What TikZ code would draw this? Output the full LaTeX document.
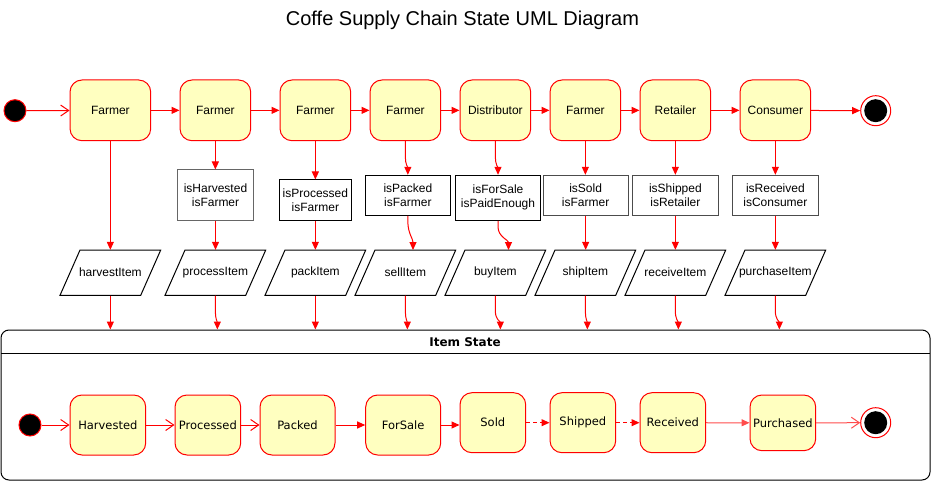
\documentclass[tikz,border=0pt]{standalone}
\usepackage{fontspec}
\setmainfont{Liberation Sans}
\newfontfamily\dejavu{DejaVu Sans}
\usetikzlibrary{arrows.meta}
\definecolor{stfill}{HTML}{FFFFC0}
\definecolor{stred}{HTML}{FF0000}
\begin{document}
\begin{tikzpicture}[x=1pt,y=-1pt,
 actor/.style={draw=stred, fill=stfill, rounded corners=12pt, line width=1pt, font=\fontsize{12}{14}\selectfont, minimum height=60.7pt, minimum width=70.7pt, inner sep=0pt},
 istate/.style={draw=stred, fill=stfill, rounded corners=12pt, line width=1pt, font=\dejavu\fontsize{11.5}{14}\selectfont, minimum width=65.7pt, minimum height=60pt, inner sep=0pt},
 guard/.style={draw=black, fill=white, line width=1pt, font=\fontsize{12}{14}\selectfont, align=center, inner sep=0pt, minimum height=40pt, minimum width=85.3pt},
 para/.style={font=\fontsize{12}{14}\selectfont, minimum width=60pt, minimum height=45.3pt, inner sep=0pt},
 flow/.style={draw=stred, line width=1pt, -{Triangle[length=8pt,width=7pt]}},
 openflow/.style={draw=stred, line width=1pt, -{Straight Barb[length=8pt,width=11pt]}},
 initst/.style={circle, fill=black, draw=stred, line width=1pt, minimum size=22pt, inner sep=0pt},
 finalst/.style={circle, fill=white, draw=stred, line width=1pt, minimum size=30pt, inner sep=0pt},
 paraline/.style={draw=black, line width=1pt}
]
\useasboundingbox (0,0) rectangle (931,481);
\newcommand\drawpara[1]{\draw[paraline] ([shift={(-50.35,22.65)}]#1.center) -- ([shift={(-30.35,-22.65)}]#1.center) -- ([shift={(50.35,-22.65)}]#1.center) -- ([shift={(30.35,22.65)}]#1.center) -- cycle;}

\node[font=\fontsize{20}{24}\selectfont] (title) at (462.5,20) {Coffe Supply Chain State UML Diagram};

% top row
\node[initst] (i1) at (15,110.7) {};
\node[actor, minimum width=80.7pt] (f1) at (110.35,110.35) {Farmer};
\node[actor] (f2) at (215.35,110.35) {Farmer};
\node[actor] (f3) at (315.35,110.35) {Farmer};
\node[actor] (f4) at (405.35,110.35) {Farmer};
\node[actor] (f5) at (495.35,110.35) {Distributor};
\node[actor] (f6) at (585.35,110.35) {Farmer};
\node[actor] (f7) at (675.35,110.35) {Retailer};
\node[actor] (f8) at (775.35,110.35) {Consumer};
\node[finalst] (e1) at (875.7,110.7) {};
\fill[black] (e1.center) circle (11.5pt);

% guards
\node[guard, draw=black!60, minimum width=75.6pt, minimum height=50pt] (g2) at (215.5,195) {isHarvested\\isFarmer};
\node[guard, minimum width=72.7pt] (g3) at (315.35,200) {isProcessed\\isFarmer};
\node[guard, minimum width=84.3pt] (g4) at (407.85,195.3) {isPacked\\isFarmer};
\node[guard, minimum height=45pt] (g5) at (498,197.8) {isForSale\\isPaidEnough};
\node[guard, draw=black!70] (g6) at (585.65,195.3) {isSold\\isFarmer};
\node[guard, draw=black!70] (g7) at (675.35,195.3) {isShipped\\isRetailer};
\node[guard, draw=black!70] (g8) at (775.35,195.3) {isReceived\\isConsumer};

% parallelograms
\node[para] (p1) at (110.35,272.7) {harvestItem};
\node[para] (p2) at (215.35,272.7) {processItem};
\node[para] (p3) at (315.35,272.7) {packItem};
\node[para] (p4) at (405.35,272.7) {sellItem};
\node[para] (p5) at (495.35,272.7) {buyItem};
\node[para] (p6) at (585.35,272.7) {shipItem};
\node[para] (p7) at (675.35,272.7) {receiveItem};
\node[para] (p8) at (775.35,272.7) {purchaseItem};
\foreach \p in {p1,p2,p3,p4,p5,p6,p7,p8} {\drawpara{\p}}

% container
\node[draw=black, line width=1pt, rounded corners=8pt, minimum width=929pt, minimum height=150pt, inner sep=0pt] (cont) at (465.5,405) {};
\coordinate (sepl) at (1,353.3);
\coordinate (sepr) at (930,353.3);
\draw[line width=1pt] (sepl) -- (sepr);
\node[font=\dejavu\bfseries\fontsize{12}{14}\selectfont] (hdr) at (465,342) {Item State};

% bottom row
\node[initst] (i2) at (30,425) {};
\node[istate, minimum width=75.7pt] (s1) at (107.85,425) {Harvested};
\node[istate] (s2) at (207.85,425) {Processed};
\node[istate, minimum width=75pt] (s3) at (297.5,425) {Packed};
\node[istate, minimum width=75pt] (s4) at (403.2,425) {ForSale};
\node[istate] (s5) at (492.85,422.7) {Sold};
\node[istate] (s6) at (582.85,422.7) {Shipped};
\node[istate] (s7) at (672.85,422.7) {Received};
\node[istate, minimum height=55.7pt] (s8) at (782.85,422.85) {Purchased};
\node[finalst] (e2) at (875.7,422.7) {};
\fill[black] (e2.center) circle (11.5pt);

% top connectors
\draw[openflow] (i1) -- (f1);
\draw[flow] (f1) -- (f2);
\draw[flow] (f2) -- (f3);
\draw[flow] (f3) -- (f4);
\draw[flow] (f4) -- (f5);
\draw[flow] (f5) -- (f6);
\draw[flow] (f6) -- (f7);
\draw[flow] (f7) -- (f8);
\draw[flow] (f8) -- (e1);

\draw[flow] (f1.south) -- (p1.north);
\foreach \n in {2,3,6,7,8} {
  \draw[flow] (f\n.south) -- (f\n.south |- g\n.north);
  \draw[flow] (g\n.south) -- (g\n.south |- p\n.north);
}
\draw[flow] (f4.south) -- ++(0,16) to[out=-90,in=90] (g4.north);
\draw[flow] (f5.south) -- ++(0,16) to[out=-90,in=90] (g5.north);
\coordinate (k4) at (413,250);
\coordinate (k5) at (508.5,250);
\draw[flow] (g4.south) -- ++(0,6) to[out=-90,in=90] (k4);
\draw[flow] (g5.south) -- ++(0,6) to[out=-90,in=90] (k5);
\foreach \n/\dx in {1/0,2/2,3/0,4/2,5/5,6/2,7/3,8/4} {
  \coordinate (q\n) at ([xshift=\dx pt]p\n.south |- cont.north);
  \draw[flow] (p\n.south) -- ++(0,16) to[out=-90,in=90] (q\n);
}

% bottom connectors
\draw[openflow] (i2) -- (s1);
\draw[openflow] (s1) -- (s2);
\draw[openflow] (s2) -- (s3);
\draw[flow] (s3) -- (s4);
\draw[flow] (s4.east) -- (s4.east -| s5.west);
\draw[flow, dash pattern=on 4pt off 3pt] (s5) -- (s6);
\draw[flow, dash pattern=on 4pt off 3pt] (s6) -- (s7);
\draw[flow, draw=stred!70] (s7) -- (s8);
\draw[openflow, draw=stred!70] (s8) -- (e2);
\end{tikzpicture}
\end{document}
